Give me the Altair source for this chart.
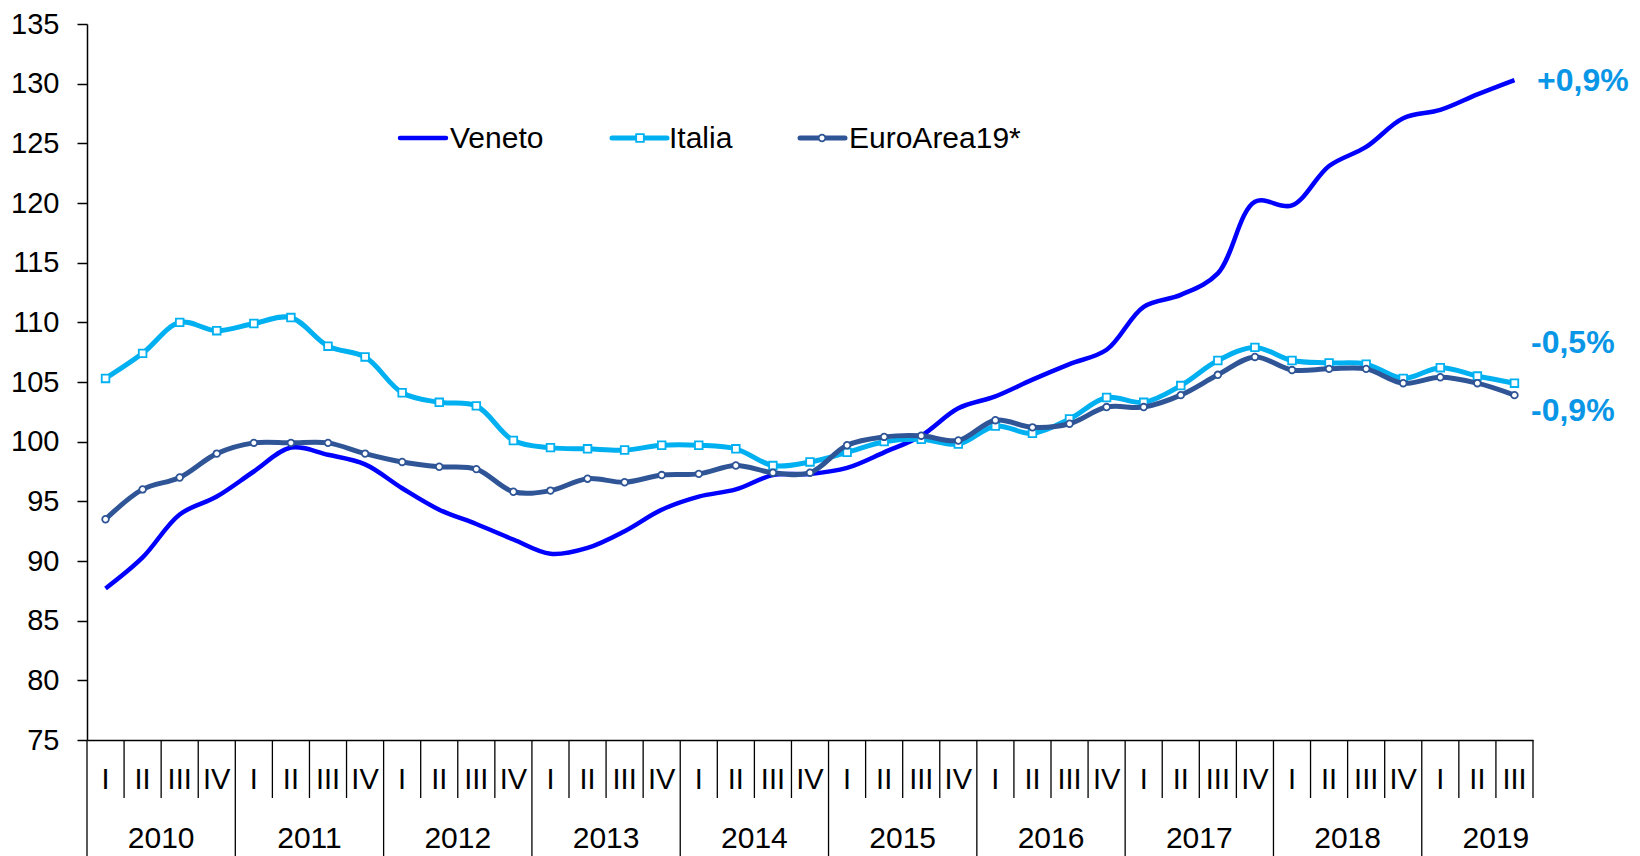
import altair as alt
import pandas as pd

# ---------------- data ----------------
quarter_names = ["I", "II", "III", "IV"]
years = ["2010", "2011", "2012", "2013", "2014", "2015", "2016", "2017", "2018", "2019"]
series_names = ["Veneto", "Italia", "EuroArea19*"]
end_labels = ["+0,9%", "-0,5%", "-0,9%"]
y_ticks = [75, 80, 85, 90, 95, 100, 105, 110, 115, 120, 125, 130, 135]

veneto = [87.7, 90.3, 93.9, 95.4, 97.5, 99.5, 98.9, 98.1, 96.1, 94.3, 93.1,
          91.8, 90.6, 91.1, 92.5, 94.3, 95.4, 96.0, 97.2, 97.3, 97.8,
          99.1, 100.5, 102.8, 103.8, 105.2, 106.5, 107.7, 111.3, 112.3, 114.1,
          120.1, 119.8, 123.1, 124.7, 127.1, 127.8, 129.1, 130.3]
italia = [105.3, 107.4, 110.0, 109.3, 109.9, 110.4, 108.0, 107.1, 104.1, 103.3, 103.0,
          100.1, 99.5, 99.4, 99.3, 99.7, 99.7, 99.4, 98.0, 98.3, 99.1,
          100.0, 100.2, 99.8, 101.3, 100.7, 101.9, 103.7, 103.3, 104.7, 106.8,
          107.9, 106.8, 106.6, 106.5, 105.3, 106.2, 105.5, 104.9]
euro = [93.5, 96.0, 97.0, 99.0, 99.9, 99.9, 99.9, 99.0, 98.3, 97.9, 97.7,
        95.8, 95.9, 96.9, 96.6, 97.2, 97.3, 98.0, 97.4, 97.4, 99.7,
        100.4, 100.5, 100.1, 101.8, 101.2, 101.5, 102.9, 102.9, 103.9, 105.6,
        107.1, 106.0, 106.1, 106.1, 104.9, 105.4, 104.9, 103.9]

colors = ["#0000FF", "#00B0F0", "#2F5597"]
label_color = "#0A96E6"
FONT = "Liberation Sans"

n = len(veneto)
W, H = 1446, 716

rows = []
for name, vals in zip(series_names, [veneto, italia, euro]):
    for i, v in enumerate(vals):
        rows.append({"series": name, "pos": i + 0.5, "value": v})
df = pd.DataFrame(rows)

qdf = pd.DataFrame({"pos": [i + 0.5 for i in range(n)],
                    "q": [quarter_names[i % 4] for i in range(n)]})
ydf = pd.DataFrame({"pos": [4 * k + 2 for k in range(len(years))], "year": years})
qsep = pd.DataFrame({"pos": [b for b in range(n + 1) if not (b % 4 == 0 and b < n)]})
ysep = pd.DataFrame({"pos": [b for b in range(0, n, 4)]})

xscale = alt.Scale(domain=[0, n], nice=False, zero=False)
yscale = alt.Scale(domain=[75, 135], nice=False, zero=False)

x_axis = alt.Axis(domain=True, ticks=False, labels=False, grid=False, title=None,
                  domainColor="black", domainWidth=1.5)
y_axis = alt.Axis(values=y_ticks, tickSize=10, tickColor="black", tickWidth=1.5,
                  domainColor="black", domainWidth=1.5, grid=False, title=None,
                  labelFontSize=29, labelFont=FONT, labelColor="black",
                  labelPadding=18)
X = alt.X("pos:Q", scale=xscale, axis=x_axis)
Y = alt.Y("value:Q", scale=yscale, axis=y_axis)

SQ, CI = 58, 44


def series(name):
    return alt.Chart(df).transform_filter(alt.datum.series == name)


line_v = series("Veneto").mark_line(
    interpolate="catmull-rom", strokeWidth=4.5, color=colors[0]).encode(x=X, y=Y)
line_i = series("Italia").mark_line(
    interpolate="catmull-rom", strokeWidth=5, color=colors[1]).encode(x=X, y=Y)
pts_i = series("Italia").mark_point(
    shape="square", filled=True, fill="white", stroke=colors[1], strokeWidth=1.8,
    size=SQ, opacity=1).encode(x=X, y=Y)
line_e = series("EuroArea19*").mark_line(
    interpolate="catmull-rom", strokeWidth=5, color=colors[2]).encode(x=X, y=Y)
pts_e = series("EuroArea19*").mark_point(
    shape="circle", filled=True, fill="white", stroke=colors[2], strokeWidth=1.8,
    size=CI, opacity=1).encode(x=X, y=Y)

# category axis (two levels)
q_rules = alt.Chart(qsep).mark_rule(color="black", strokeWidth=1.3).encode(
    x=X, y=alt.value(H), y2=alt.value(H + 58))
y_rules = alt.Chart(ysep).mark_rule(color="black", strokeWidth=1.3).encode(
    x=X, y=alt.value(H), y2=alt.value(H + 120))
q_text = alt.Chart(qdf).mark_text(fontSize=29, font=FONT, color="black", baseline="middle").encode(
    x=X, y=alt.value(H + 40), text="q:N")
y_text = alt.Chart(ydf).mark_text(fontSize=30, font=FONT, color="black", baseline="middle").encode(
    x=X, y=alt.value(H + 99), text="year:N")

# legend
one = pd.DataFrame({"k": [0]})
LY = 114
leg = []
leg_line = [(313, 359), (525, 580), (713, 758)]
leg_text_x = [363, 582, 762]
for idx in range(3):
    x0, x1 = leg_line[idx]
    leg.append(alt.Chart(one).mark_rule(color=colors[idx], strokeWidth=5 if idx else 4.5, strokeCap="round").encode(
        x=alt.value(x0), x2=alt.value(x1), y=alt.value(LY)))
    leg.append(alt.Chart(one).mark_text(text=series_names[idx], fontSize=30, font=FONT, color="black",
                                        align="left", baseline="middle").encode(
        x=alt.value(leg_text_x[idx]), y=alt.value(LY + 1)))
leg.append(alt.Chart(one).mark_point(shape="square", filled=True, fill="white", stroke=colors[1],
                                     strokeWidth=1.8, size=SQ, opacity=1).encode(
    x=alt.value(553), y=alt.value(LY)))
leg.append(alt.Chart(one).mark_point(shape="circle", filled=True, fill="white", stroke=colors[2],
                                     strokeWidth=1.8, size=CI, opacity=1).encode(
    x=alt.value(735), y=alt.value(LY)))

# end labels
lab_pos = [(1450, 57), (1444, 319), (1444, 387)]
labs = []
for t, (lx, ly) in zip(end_labels, lab_pos):
    labs.append(alt.Chart(one).mark_text(text=t, fontSize=32, font=FONT, fontWeight="bold",
                                         color=label_color, align="left", baseline="middle").encode(
        x=alt.value(lx), y=alt.value(ly)))

chart = alt.layer(line_v, line_i, pts_i, line_e, pts_e, q_rules, y_rules, q_text, y_text,
                  *leg, *labs).properties(
    width=W, height=H,
    autosize=alt.AutoSizeParams(type="none"),
    padding={"left": 79, "top": 16, "right": 99, "bottom": 116},
    background="white",
).configure_view(stroke=None)

chart.save("out.html", embed_options={"renderer": "svg", "actions": False})
